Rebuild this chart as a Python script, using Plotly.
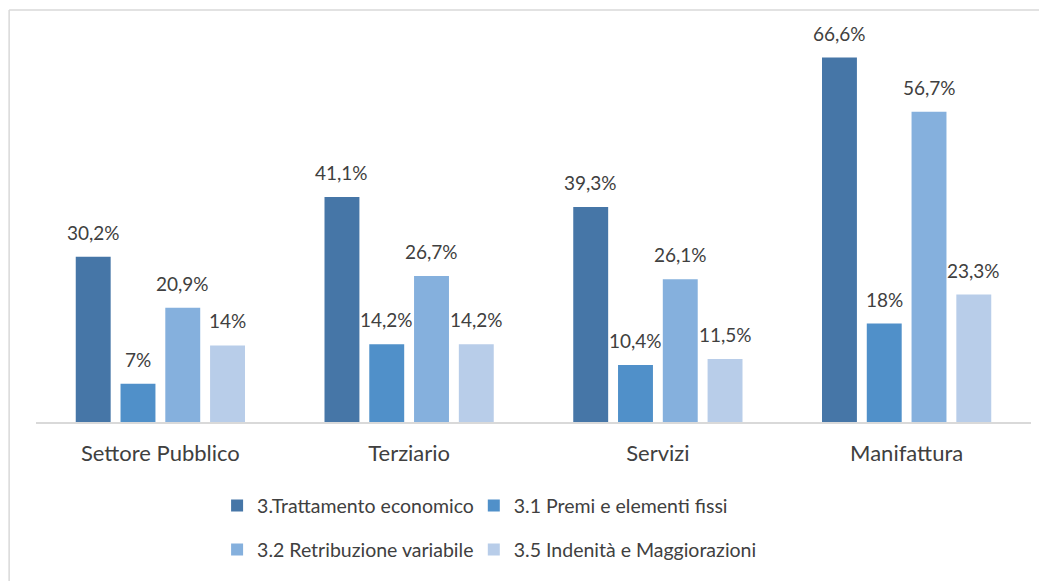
import plotly.graph_objects as go

CATEGORIE = ["Settore Pubblico", "Terziario", "Servizi", "Manifattura"]

SERIE = [
    "3.Trattamento economico",
    "3.1 Premi e elementi fissi",
    "3.2 Retribuzione variabile",
    "3.5 Indenità e Maggiorazioni",
]

TRATTAMENTO = [30.2, 41.1, 39.3, 66.6]
PREMI = [7.0, 14.2, 10.4, 18.0]
RETRIBUZIONE = [20.9, 26.7, 26.1, 56.7]
INDENNITA = [14.0, 14.2, 11.5, 23.3]

VALORI = [TRATTAMENTO, PREMI, RETRIBUZIONE, INDENNITA]

COLORI = ["#4676A7", "#5090C9", "#85B0DD", "#B8CDE9"]
# una legenda per voce: 2 righe x 2 colonne
LEGENDE = ["legend", "legend2", "legend3", "legend4"]

FONT = "Lato"
GRIGIO_TESTO = "#404040"

# la pagina html ha 8px di margine sul body
LARGHEZZA, ALTEZZA = 1039, 573
MARGINI = dict(l=28, r=16, t=31, b=159)
BARGAP = 0.28


def etichetta(v):
    return f"{v:g}".replace(".", ",") + "%"


def legenda(x, y):
    return dict(
        orientation="h",
        x=x, xanchor="left",
        y=y, yanchor="middle",
        itemwidth=30,
        bgcolor="rgba(0,0,0,0)",
        font=dict(family=FONT, size=19.5, color=GRIGIO_TESTO),
    )


fig = go.Figure()
for nome, valori, colore, leg in zip(SERIE, VALORI, COLORI, LEGENDE):
    fig.add_trace(
        go.Bar(
            name=nome,
            x=CATEGORIE,
            y=valori,
            marker=dict(color=colore, line=dict(width=0)),
            legend=leg,
            showlegend=True,
        )
    )

# etichette sopra le barre (spostate orizzontalmente sul centro di ogni barra)
larghezza_plot = LARGHEZZA - MARGINI["l"] - MARGINI["r"]
slot = larghezza_plot / len(CATEGORIE) * (1 - BARGAP) / len(SERIE)
for j, valori in enumerate(VALORI):
    for cat, v in zip(CATEGORIE, valori):
        fig.add_annotation(
            x=cat, y=v, text=etichetta(v),
            showarrow=False, yanchor="bottom",
            xshift=(j - (len(SERIE) - 1) / 2) * slot,
            yshift=11,
            font=dict(family=FONT, size=19, color=GRIGIO_TESTO),
        )

# cornice del grafico (solo lati superiore e sinistro visibili)
fig.add_shape(type="line", xref="paper", yref="paper",
              x0=-0.027, x1=1.02, y0=1.0757, y1=1.0757,
              line=dict(color="#D9D9D9", width=1.5))
fig.add_shape(type="line", xref="paper", yref="paper",
              x0=-0.027, x1=-0.027, y0=-0.45, y1=1.0757,
              line=dict(color="#D9D9D9", width=1.5))

fig.update_layout(
    width=LARGHEZZA,
    height=ALTEZZA,
    margin=MARGINI,
    plot_bgcolor="white",
    paper_bgcolor="white",
    barmode="group",
    bargap=BARGAP,
    bargroupgap=0.22,
    font=dict(family=FONT, color=GRIGIO_TESTO),
    xaxis=dict(
        showline=True,
        linecolor="#D9D9D9",
        linewidth=2,
        ticks="",
        tickfont=dict(family=FONT, size=22, color=GRIGIO_TESTO),
        ticklabelstandoff=11,
    ),
    yaxis=dict(
        range=[0, 70],
        visible=False,
        showgrid=False,
        zeroline=False,
    ),
    legend=legenda(0.182, -0.219),
    legend2=legenda(0.44, -0.219),
    legend3=legenda(0.182, -0.334),
    legend4=legenda(0.44, -0.334),
)

fig.write_html("out.html")
